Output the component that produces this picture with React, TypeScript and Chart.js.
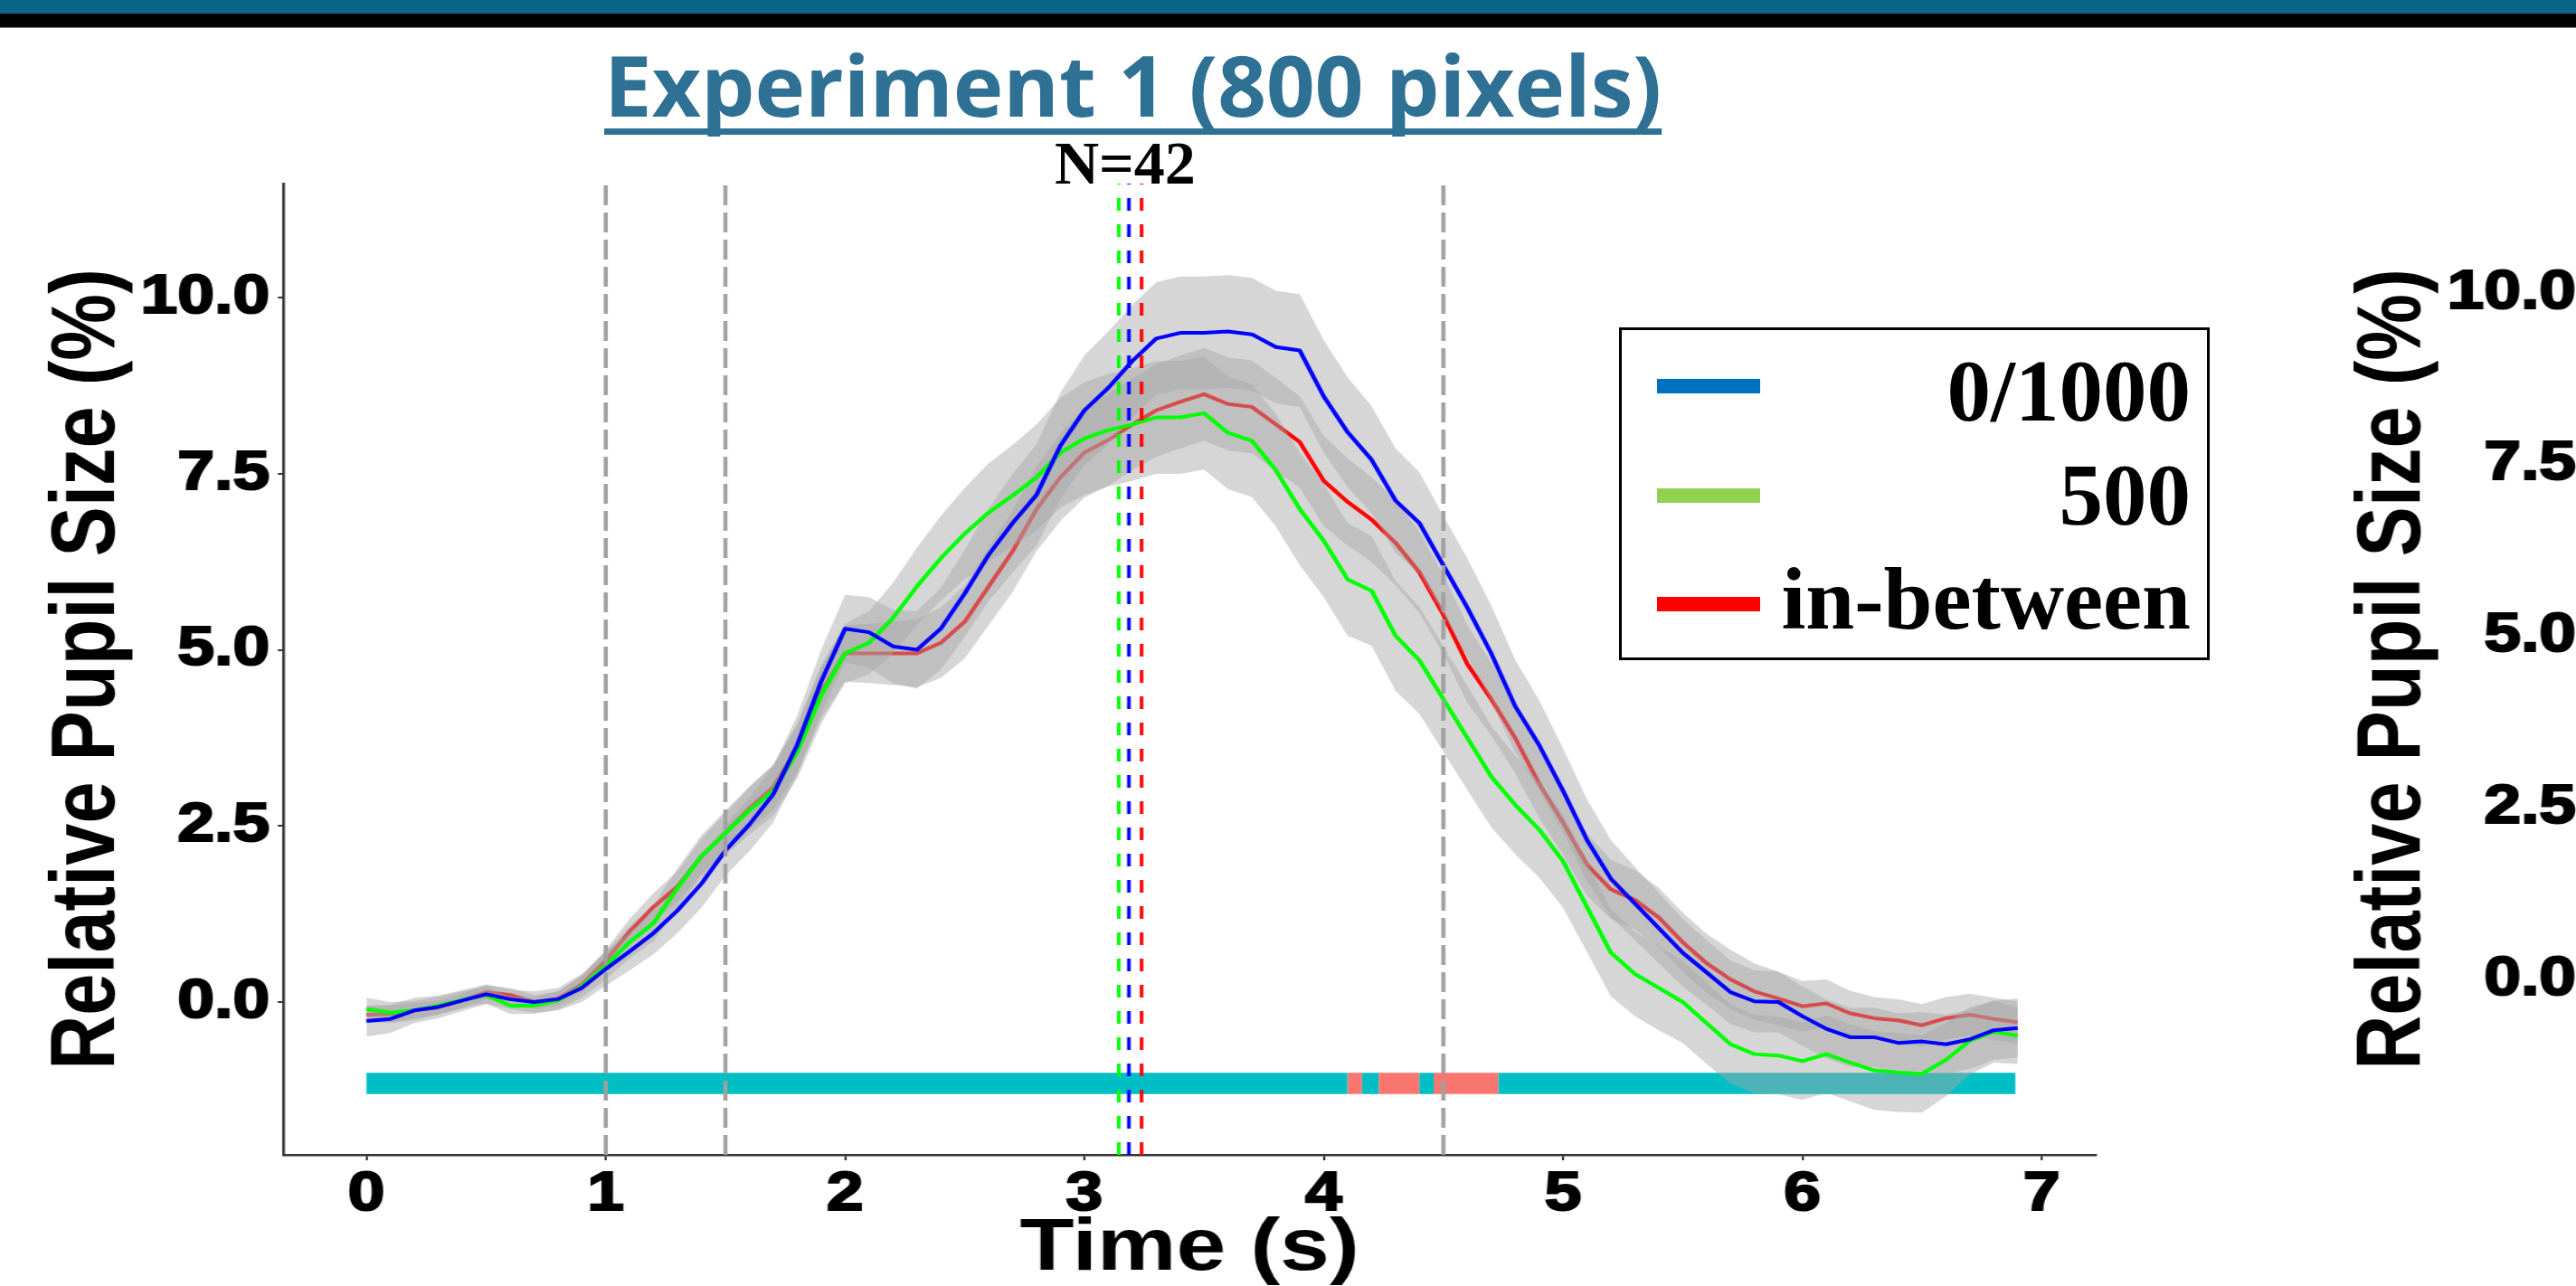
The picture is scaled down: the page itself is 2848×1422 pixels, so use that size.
import React, { useEffect, useRef } from "react";
import { Chart, registerables } from "chart.js";

Chart.register(...registerables);

// ---------------- data ----------------
const TIME = [
  0, 0.1, 0.2, 0.3, 0.4, 0.5, 0.6, 0.7, 0.8, 0.9,
  1.0, 1.1, 1.2, 1.3, 1.4, 1.5, 1.6, 1.7, 1.8, 1.9,
  2.0, 2.1, 2.2, 2.3, 2.4, 2.5, 2.6, 2.7, 2.8, 2.9,
  3.0, 3.1, 3.2, 3.3, 3.4, 3.5, 3.6, 3.7, 3.8, 3.9,
  4.0, 4.1, 4.2, 4.3, 4.4, 4.5, 4.6, 4.7, 4.8, 4.9,
  5.0, 5.1, 5.2, 5.3, 5.4, 5.5, 5.6, 5.7, 5.8, 5.9,
  6.0, 6.1, 6.2, 6.3, 6.4, 6.5, 6.6, 6.7, 6.8, 6.9,
];

const BLUE_0_1000 = [
  -0.27, -0.24, -0.12, -0.07, 0.02, 0.11, 0.04, 0.0, 0.04, 0.2,
  0.47, 0.72, 0.98, 1.3, 1.68, 2.15, 2.52, 2.95, 3.65, 4.55,
  5.3, 5.25, 5.05, 5.0, 5.3, 5.8, 6.35, 6.8, 7.2, 7.9,
  8.4, 8.72, 9.1, 9.42, 9.5, 9.5, 9.52, 9.48, 9.3, 9.25,
  8.6, 8.09, 7.7, 7.12, 6.8, 6.2, 5.6, 4.95, 4.2, 3.65,
  3.0, 2.3, 1.75, 1.4, 1.05, 0.7, 0.42, 0.14, 0.01, 0.0,
  -0.2, -0.38, -0.5, -0.5, -0.58, -0.56, -0.6, -0.53, -0.4, -0.37,
];
const GREEN_500 = [
  -0.1, -0.15, -0.12, -0.05, 0.03, 0.1, -0.05, -0.05, 0.02, 0.22,
  0.52, 0.85, 1.12, 1.62, 2.07, 2.4, 2.72, 3.0, 3.55, 4.35,
  4.95, 5.1, 5.45, 5.9, 6.3, 6.65, 6.95, 7.19, 7.45, 7.8,
  8.0, 8.12, 8.2, 8.3, 8.3, 8.36, 8.08, 7.97, 7.55, 7.0,
  6.55, 6.0, 5.84, 5.2, 4.85, 4.3, 3.75, 3.2, 2.8, 2.45,
  2.0, 1.35, 0.7, 0.4, 0.2, 0.0, -0.3, -0.6, -0.74, -0.76,
  -0.84, -0.74, -0.86, -0.97, -1.0, -1.02, -0.82, -0.55, -0.42, -0.48,
];
const RED_BETWEEN = [
  -0.18, -0.17, -0.12, -0.08, 0.02, 0.14, 0.1, 0.0, 0.05, 0.25,
  0.59, 1.0, 1.35, 1.64, 2.07, 2.4, 2.75, 3.05, 3.6, 4.4,
  4.95, 4.95, 4.95, 4.95, 5.1, 5.4, 5.9, 6.4, 7.0, 7.45,
  7.8, 7.98, 8.2, 8.4, 8.52, 8.63, 8.49, 8.45, 8.2, 7.95,
  7.4, 7.1, 6.85, 6.52, 6.1, 5.5, 4.8, 4.3, 3.75, 3.1,
  2.55, 1.95, 1.6, 1.45, 1.2, 0.85, 0.55, 0.32, 0.15, 0.05,
  -0.06, -0.02, -0.16, -0.23, -0.26, -0.33, -0.23, -0.18, -0.24, -0.29,
];

const BLUE_SE = [
  0.22, 0.2, 0.18, 0.16, 0.15, 0.14, 0.14, 0.15, 0.16, 0.2,
  0.24, 0.27, 0.3, 0.32, 0.34, 0.36, 0.38, 0.4, 0.42, 0.45,
  0.48, 0.5, 0.52, 0.55, 0.58, 0.62, 0.66, 0.7, 0.72, 0.75,
  0.78, 0.8, 0.8, 0.8, 0.8, 0.8, 0.8, 0.8, 0.8, 0.8,
  0.8, 0.78, 0.76, 0.74, 0.72, 0.7, 0.7, 0.68, 0.66, 0.64,
  0.6, 0.58, 0.55, 0.52, 0.5, 0.48, 0.46, 0.45, 0.44, 0.43,
  0.42, 0.42, 0.42, 0.42, 0.42, 0.42, 0.42, 0.42, 0.42, 0.42,
];
const GREEN_SE = [
  0.16, 0.15, 0.14, 0.13, 0.12, 0.12, 0.12, 0.12, 0.13, 0.16,
  0.2, 0.23, 0.26, 0.28, 0.3, 0.32, 0.34, 0.36, 0.38, 0.4,
  0.42, 0.45, 0.5, 0.55, 0.6, 0.65, 0.7, 0.72, 0.75, 0.78,
  0.8, 0.8, 0.8, 0.8, 0.8, 0.8, 0.8, 0.8, 0.8, 0.8,
  0.8, 0.8, 0.78, 0.78, 0.76, 0.75, 0.74, 0.72, 0.7, 0.68,
  0.66, 0.64, 0.62, 0.6, 0.6, 0.58, 0.58, 0.56, 0.56, 0.55,
  0.55, 0.55, 0.55, 0.56, 0.56, 0.55, 0.52, 0.48, 0.44, 0.4,
];
const RED_SE = [
  0.12, 0.12, 0.11, 0.1, 0.1, 0.1, 0.1, 0.1, 0.1, 0.12,
  0.15, 0.18, 0.2, 0.22, 0.25, 0.28, 0.3, 0.32, 0.35, 0.38,
  0.4, 0.42, 0.45, 0.48, 0.5, 0.52, 0.55, 0.58, 0.6, 0.62,
  0.64, 0.65, 0.65, 0.66, 0.66, 0.66, 0.66, 0.66, 0.66, 0.65,
  0.64, 0.62, 0.6, 0.6, 0.58, 0.56, 0.55, 0.52, 0.5, 0.48,
  0.46, 0.44, 0.42, 0.42, 0.42, 0.42, 0.42, 0.42, 0.4, 0.38,
  0.36, 0.34, 0.32, 0.3, 0.3, 0.3, 0.3, 0.3, 0.3, 0.3,
];

// significance bar: boundaries and whether each segment is significant
const SIG_BOUNDS = [0, 4.1, 4.16, 4.23, 4.4, 4.46, 4.73, 6.89];
const SIG_SIGNIFICANT = [false, true, false, true, false, true, false];
const SIG_LEVEL = -1.155;

// event markers
const EVENT_LINES = [1, 1.5, 4.5];
const PEAK_LINES = [3.144, 3.186, 3.239];

const X_TICKS = [0, 1, 2, 3, 4, 5, 6, 7];
const Y_TICKS = [0, 2.5, 5, 7.5, 10];
const X_MIN = -0.348, X_MAX = 7.226;
const Y_MIN = -2.17, Y_MAX = 11.62;

const LEGEND_LABELS = ["0/1000", "500", "in-between"];
const LEGEND_COLORS = ["#0070c0", "#92d050", "#ff0000"];

// ---------------- styles ----------------
const STRETCH = 1.2;
const SANS = '"Liberation Sans", Arial, Helvetica, sans-serif';
const SERIF = '"Liberation Serif", "Times New Roman", serif';
const BAND = "rgba(166,166,166,0.46)";
const CYAN = "#00bfc4";
const SALMON = "#f8766d";
const AXIS = "#333333";

const pts = (ys: number[]) => TIME.map((t, i) => ({ x: t, y: ys[i] }));
const bandPts = (ys: number[], se: number[], s: number) =>
  TIME.map((t, i) => ({ x: t, y: ys[i] + s * se[i] }));

export default function App() {
  const mainRef = useRef<HTMLCanvasElement>(null);
  const sideRef = useRef<HTMLCanvasElement>(null);

  useEffect(() => {
    const lineDs = (label: string, ys: number[], color: string, order: number) => ({
      label,
      data: pts(ys),
      borderColor: color,
      borderWidth: 4,
      pointRadius: 0,
      fill: false,
      tension: 0,
      borderJoinStyle: "round",
      order,
    });
    const bandDs = (label: string, ys: number[], se: number[], order: number) => [
      {
        label: label + " upper",
        data: bandPts(ys, se, 1),
        borderColor: "rgba(0,0,0,0)",
        borderWidth: 0,
        pointRadius: 0,
        backgroundColor: BAND,
        fill: "+1",
        order,
      },
      {
        label: label + " lower",
        data: bandPts(ys, se, -1),
        borderColor: "rgba(0,0,0,0)",
        borderWidth: 0,
        pointRadius: 0,
        fill: false,
        order,
      },
    ];
    const vline = (x: number, color: string, dash: number[], width: number) => ({
      label: "v" + x,
      data: [
        { x, y: Y_MIN },
        { x, y: Y_MAX },
      ],
      borderColor: color,
      borderWidth: width,
      borderDash: dash,
      borderCapStyle: "butt",
      pointRadius: 0,
      fill: false,
      order: 0,
    });

    const tickFont = { family: SANS, size: 61, weight: "bold" as const };
    const tickCommon = {
      font: tickFont,
      color: "#000",
      textStrokeColor: "#000",
      textStrokeWidth: 2.2,
      autoSkip: false,
    };

    const main = new Chart(mainRef.current!, {
      type: "line",
      data: {
        datasets: [
          {
            label: "significance",
            data: SIG_BOUNDS.map((x) => ({ x, y: SIG_LEVEL })),
            borderColor: CYAN,
            borderWidth: 23.4,
            borderCapStyle: "butt",
            pointRadius: 0,
            fill: false,
            order: 90,
            segment: {
              borderColor: (ctx: any) => (SIG_SIGNIFICANT[ctx.p0DataIndex] ? SALMON : CYAN),
            },
          },
          ...bandDs("in-between", RED_BETWEEN, RED_SE, 80),
          lineDs("in-between", RED_BETWEEN, "#ff0000", 70),
          ...bandDs("0/1000", BLUE_0_1000, BLUE_SE, 60),
          ...bandDs("500", GREEN_500, GREEN_SE, 60),
          lineDs("500", GREEN_500, "#00ff00", 20),
          lineDs("0/1000", BLUE_0_1000, "#0000ff", 10),
          ...EVENT_LINES.map((x) => vline(x, "#a0a0a0", [22, 8], 3.8)),
          vline(PEAK_LINES[0], "#00ff00", [14, 15], 3.3),
          vline(PEAK_LINES[1], "#0000ff", [14, 15], 3.3),
          vline(PEAK_LINES[2], "#ff0000", [14, 15], 3.3),
        ] as any,
      },
      options: {
        responsive: false,
        animation: false,
        devicePixelRatio: 1,
        events: [],
        layout: { padding: { left: 0, right: 2374 - 2317 / STRETCH, top: 203, bottom: 0 } },
        plugins: {
          legend: { display: false },
          tooltip: { enabled: false },
          title: { display: false },
        },
        scales: {
          x: {
            type: "linear",
            min: X_MIN,
            max: X_MAX,
            afterFit: (s: any) => {
              s.height = 183;
            },
            afterBuildTicks: (s: any) => {
              s.ticks = X_TICKS.map((v) => ({ value: v }));
            },
            ticks: {
              ...tickCommon,
              padding: 2,
              maxRotation: 0,
              callback: (v: any) => String(v),
            },
            grid: { drawOnChartArea: false, drawTicks: true, tickLength: 6, color: AXIS, lineWidth: 2 },
            border: { display: true, color: AXIS, width: 2.5 },
            title: {
              display: true,
              text: "Time (s)",
              color: "#000",
              font: { family: SANS, size: 82, weight: "bold", lineHeight: 1 },
              padding: { top: 0, bottom: 38 },
            },
          },
          y: {
            type: "linear",
            min: Y_MIN,
            max: Y_MAX,
            afterFit: (s: any) => {
              s.width = 313 / STRETCH;
            },
            afterBuildTicks: (s: any) => {
              s.ticks = Y_TICKS.map((v) => ({ value: v }));
            },
            ticks: {
              ...tickCommon,
              padding: 7.5,
              callback: (v: any) => Number(v).toFixed(1),
            },
            grid: { drawOnChartArea: false, drawTicks: true, tickLength: 5, color: AXIS, lineWidth: 2 },
            border: { display: true, color: AXIS, width: 2.5 },
            title: {
              display: true,
              text: "Relative Pupil Size (%)",
              color: "#000",
              font: { family: SANS, size: 83, weight: "bold", lineHeight: 1 },
              padding: { top: 41, bottom: 0 },
            },
          },
        },
      } as any,
    });

    // partially visible neighbouring panel (only its y axis labels are in view)
    const side = new Chart(sideRef.current!, {
      type: "line",
      data: { datasets: [] },
      options: {
        responsive: false,
        animation: false,
        devicePixelRatio: 1,
        events: [],
        layout: { padding: { left: 0, right: 0, top: 203, bottom: 145 } },
        plugins: { legend: { display: false }, tooltip: { enabled: false } },
        scales: {
          x: { type: "linear", min: 0, max: 7, display: false },
          y: {
            type: "linear",
            min: -2.56,
            max: 11.59,
            afterFit: (s: any) => {
              s.width = (2863 - 2560) / STRETCH;
            },
            afterBuildTicks: (s: any) => {
              s.ticks = Y_TICKS.map((v) => ({ value: v }));
            },
            ticks: {
              ...tickCommon,
              padding: 7.5,
              callback: (v: any) => Number(v).toFixed(1),
            },
            grid: { drawOnChartArea: false, drawTicks: true, tickLength: 5, color: AXIS, lineWidth: 2 },
            border: { display: true, color: AXIS, width: 2.5 },
            title: {
              display: true,
              text: "Relative Pupil Size (%)",
              color: "#000",
              font: { family: SANS, size: 83, weight: "bold", lineHeight: 1 },
              padding: { top: 32, bottom: 0 },
            },
          },
        },
      } as any,
    });

    return () => {
      main.destroy();
      side.destroy();
    };
  }, []);

  const legendBaselines = [465, 580, 695];
  const legendLineCenters = [427, 548, 668];
  const legendSize = 97;

  return (
    <div
      style={{
        position: "fixed",
        left: 0,
        top: 0,
        width: 2848,
        height: 1422,
        overflow: "hidden",
        background: "#ffffff",
      }}
    >
      <div style={{ position: "absolute", left: 0, top: 0, transform: `scaleX(${STRETCH})`, transformOrigin: "0 0" }}>
        <canvas ref={mainRef} width={2374} height={1460} style={{ display: "block", width: 2374, height: 1460 }} />
      </div>
      <div style={{ position: "absolute", left: 2560, top: 0, transform: `scaleX(${STRETCH})`, transformOrigin: "0 0" }}>
        <canvas ref={sideRef} width={400} height={1422} style={{ display: "block", width: 400, height: 1422 }} />
      </div>

      <div style={{ position: "absolute", left: 0, top: 0, width: 2848, height: 15, background: "#0b6589" }} />
      <div style={{ position: "absolute", left: 0, top: 15, width: 2848, height: 15, background: "#000000" }} />
      <div style={{ position: "absolute", left: 0, top: 30, width: 2848, height: 1, background: "#7a7a7a" }} />

      <div
        style={{
          position: "absolute",
          left: 668,
          top: 46,
          fontFamily: '"Open Sans", sans-serif',
          fontWeight: 700,
          fontSize: 94,
          lineHeight: "94px",
          color: "#2f7194",
          textDecorationLine: "underline",
          textDecorationThickness: "7px",
          textUnderlineOffset: "13px",
          textDecorationSkipInk: "none",
          whiteSpace: "nowrap",
        } as any}
      >
        Experiment 1 (800 pixels)
      </div>

      <div
        style={{
          position: "absolute",
          left: 1166,
          top: 146,
          fontFamily: SERIF,
          fontWeight: 700,
          fontSize: 68,
          lineHeight: "68px",
          color: "#000",
          whiteSpace: "nowrap",
        }}
      >
        N=42
      </div>

      <div
        style={{
          position: "absolute",
          left: 1790,
          top: 362,
          width: 653,
          height: 368,
          boxSizing: "border-box",
          border: "3px solid #000",
          background: "#fff",
        }}
      />
      {LEGEND_LABELS.map((lab, i) => (
        <React.Fragment key={lab}>
          <div
            style={{
              position: "absolute",
              left: 1832,
              top: legendLineCenters[i] - 8,
              width: 114,
              height: 16,
              background: LEGEND_COLORS[i],
            }}
          />
          <div
            style={{
              position: "absolute",
              left: 1900,
              width: 522,
              top: legendBaselines[i] - 0.8375 * legendSize,
              textAlign: "right",
              fontFamily: SERIF,
              fontWeight: 700,
              fontSize: legendSize,
              lineHeight: `${legendSize}px`,
              color: "#000",
              whiteSpace: "nowrap",
            }}
          >
            {lab}
          </div>
        </React.Fragment>
      ))}
    </div>
  );
}
